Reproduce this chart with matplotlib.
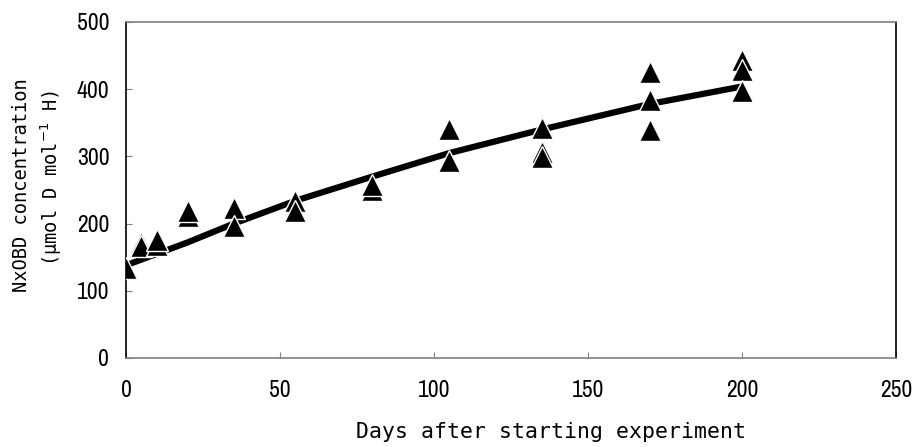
import numpy as np
import matplotlib
matplotlib.use('Agg')
import matplotlib.pyplot as plt
from matplotlib import font_manager

# measured points (days, concentration)
days = [0, 5, 5, 10, 10, 20, 20, 35, 35, 55, 55, 80, 80,
        105, 105, 135, 135, 135, 170, 170, 170, 200, 200, 200]
conc = [134, 171, 166, 168, 175, 211, 219, 223, 196, 234, 219, 250, 258,
        341, 293, 342, 306, 299, 426, 384, 339, 443, 429, 397]

# fitted curve
fit_days = [0, 10, 20, 35, 55, 80, 105, 135, 170, 200]
fit_conc = [138, 155, 172, 200, 234, 270, 305, 340, 378, 404]

xticks = [0, 50, 100, 150, 200, 250]
yticks = [0, 100, 200, 300, 400, 500]

# pick a narrow face for the numbers if one is installed
names = sorted({f.name for f in font_manager.fontManager.ttflist})
narrow = [n for n in names if 'Narrow' in n or 'Condensed' in n]
num_font = narrow[:1] + ['DejaVu Sans']
mono_font = ['DejaVu Sans Mono']

fig = plt.figure(figsize=(9.18, 4.47), dpi=100)
ax = fig.add_axes([126 / 918, 1 - 358 / 447, (896 - 126) / 918, (358 - 22) / 447])

ax.plot(fit_days, fit_conc, color='black', lw=4.5, solid_capstyle='butt', zorder=2)
ax.plot(days, conc, linestyle='none', marker='^', markersize=16,
        markerfacecolor='black', markeredgecolor='white', markeredgewidth=1.0, zorder=3)

ax.set_xlim(0, 250)
ax.set_ylim(0, 500)
ax.set_xticks(xticks)
ax.set_yticks(yticks)
ax.set_xticklabels([str(t) for t in xticks], family=num_font, stretch='condensed', fontsize=17)
ax.set_yticklabels([str(t) for t in yticks], family=num_font, stretch='condensed', fontsize=17)
ax.tick_params(axis='x', direction='in', length=4, color='#808080', pad=16)
ax.tick_params(axis='y', direction='in', length=4, color='#808080', pad=12)

ax.spines['left'].set_color('black')
ax.spines['right'].set_color('black')
ax.spines['top'].set_color('#808080')
ax.spines['bottom'].set_color('#808080')
for s in ax.spines.values():
    s.set_linewidth(1.2)

fig.text(551 / 918, 1 - 432 / 447, 'Days after starting experiment',
         ha='center', va='center', family=mono_font, fontsize=15.5)
fig.text(22 / 918, 1 - 185 / 447, 'NxOBD concentration', rotation=90,
         ha='center', va='center', family=mono_font, fontsize=13.5)
fig.text(51 / 918, 1 - 178 / 447, r'(μmol D mol$^{-1}$ H)', rotation=90,
         ha='center', va='center', family=mono_font, fontsize=13.5)

fig.savefig('out.png', dpi=100)
